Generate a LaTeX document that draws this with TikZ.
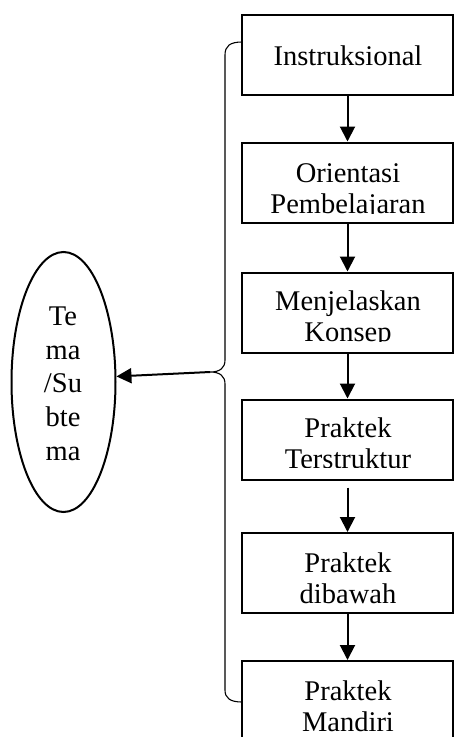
\documentclass[tikz,border=0pt]{standalone}
\usepackage{fontspec}
\setmainfont{Liberation Serif}
\usetikzlibrary{arrows.meta,shapes.geometric}
\tikzset{
  stepbox/.style={draw, line width=2pt, minimum width=211pt, minimum height=80pt, inner sep=0pt},
  txt/.style={anchor=base, inner sep=0pt, font=\fontsize{28.5}{31}\selectfont},
  arr/.style={line width=2pt, -{Triangle[width=15pt,length=15pt]}},
  brace/.style={line width=1.1pt},
}
\begin{document}
\begin{tikzpicture}[x=1pt,y=-1pt]
\useasboundingbox (0,0) rectangle (455,737);
\clip (0,0) rectangle (455,737);
\fill[white] (0,0) rectangle (455,737);
% boxes
\node[stepbox] (b1) at (347.5,55) {};
\node[stepbox] (b2) at (347.5,182.5) {};
\node[stepbox] (b3) at (347.5,312.5) {};
\node[stepbox] (b4) at (347.5,439.5) {};
\node[stepbox] (b5) at (347.5,573) {};
\node[stepbox] (b6) at (347.5,701) {};
% texts
\node[txt] (t1) at (348,65) {Instruksional};
\begin{scope}
\clip (243,143) rectangle (452,213.5);
\node[txt] (t2a) at (348,182) {Orientasi};
\node[txt] (t2b) at (348,213) {Pembelajaran};
\end{scope}
\begin{scope}
\clip (243,273) rectangle (452,341.5);
\node[txt] (t3a) at (348,310) {Menjelaskan};
\node[txt] (t3b) at (348,341) {Konsep};
\end{scope}
\begin{scope}
\clip (243,400) rectangle (452,467.5);
\node[txt] (t4a) at (348,437) {Praktek};
\node[txt] (t4b) at (348,468) {Terstruktur};
\end{scope}
\begin{scope}
\clip (243,534) rectangle (452,603);
\node[txt] (t5a) at (348,572) {Praktek};
\node[txt] (t5b) at (348,603) {dibawah};
\end{scope}
\begin{scope}
\clip (243,662) rectangle (452,731.5);
\node[txt] (t6a) at (348,700) {Praktek};
\node[txt] (t6b) at (348,731) {Mandiri};
\end{scope}
% arrows
\draw[arr] (b1.south) -- (b2.north);
\draw[arr] (b2.south) -- (b3.north);
\draw[arr] (b3.south) -- (b4.north);
\draw[arr] ([yshift=-7pt]b4.south) -- (b5.north);
\draw[arr] (b5.south) -- (b6.north);
% ellipse
\node[draw, ellipse, line width=2pt, minimum width=104pt, minimum height=260pt, inner sep=0pt] (tema) at (63.5,382) {};
\node[txt] (e1) at (63,325) {Te};
\node[txt] (e2) at (63,359) {ma};
\node[txt] (e3) at (63,392) {/Su};
\node[txt] (e4) at (63,426) {bte};
\node[txt] (e5) at (63,460) {ma};
% brace
\coordinate (cusp) at (210,372);
\draw[brace] (242,42) .. controls (230,42) and (225,46) .. (225,55) -- (225,360)
  .. controls (225,368) and (220,372) .. (cusp)
  .. controls (220,372) and (225,376) .. (225,384) -- (225,690)
  .. controls (225,698) and (230,702) .. (242,702);
\draw[arr] (cusp) -- (tema.6);
\end{tikzpicture}
\end{document}
